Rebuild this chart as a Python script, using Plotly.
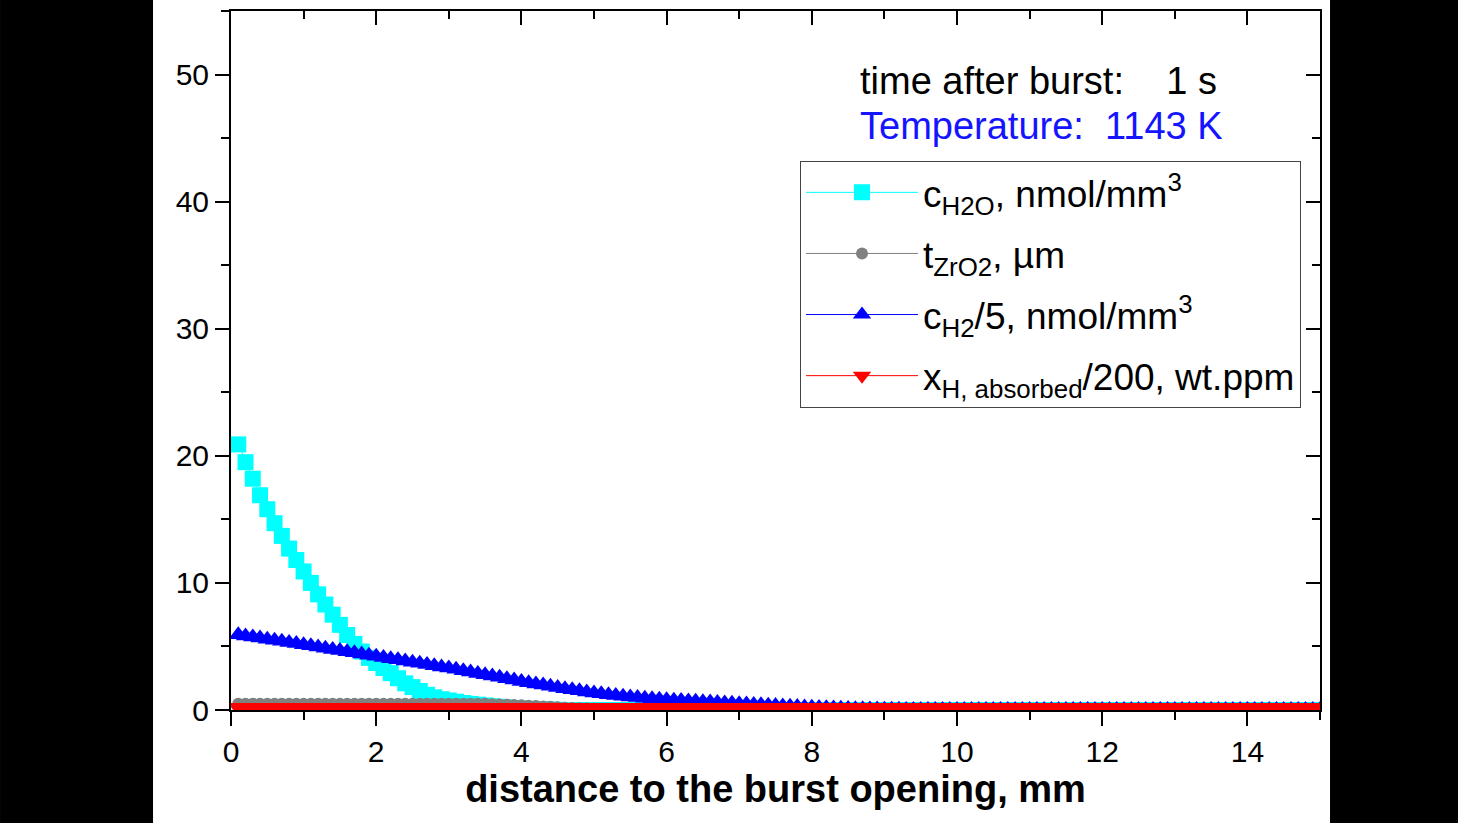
import numpy as np
import plotly.graph_objects as go

# distance grid (mm)
x_mm = np.round(np.arange(0.1, 15.0001, 0.1), 1)

# c_H2O, nmol/mm^3
c_h2o = [20.9, 19.5, 18.2, 16.9, 15.8, 14.7, 13.7, 12.7, 11.8, 10.9,
         10.0, 9.1, 8.3, 7.5, 6.7, 5.9, 5.2, 4.6, 4.1, 3.7,
         3.3, 2.9, 2.5, 2.1, 1.8, 1.5, 1.2, 1.0, 0.85, 0.75,
         0.65, 0.55, 0.48, 0.42, 0.36, 0.30, 0.25, 0.20, 0.16, 0.12,
         0.10, 0.08, 0.06, 0.04, 0.02] + [0.0] * 105

# t_ZrO2, um
t_zro2 = [0.50] * 35 + [0.46, 0.44, 0.42, 0.40, 0.37, 0.34, 0.31, 0.28, 0.25, 0.21,
                        0.18, 0.15, 0.13, 0.11, 0.09, 0.07, 0.05, 0.04, 0.02, 0.01] + [0.0] * 95

# c_H2 / 5, nmol/mm^3
c_h2 = [5.92, 5.83, 5.75, 5.66, 5.57, 5.49, 5.40, 5.31, 5.23, 5.14,
        5.05, 4.96, 4.86, 4.77, 4.68, 4.59, 4.50, 4.40, 4.31, 4.22,
        4.13, 4.04, 3.95, 3.85, 3.76, 3.67, 3.58, 3.49, 3.39, 3.30,
        3.20, 3.09, 2.99, 2.88, 2.78, 2.67, 2.57, 2.46, 2.36, 2.25,
        2.15, 2.05, 1.96, 1.86, 1.77, 1.68, 1.59, 1.51, 1.42, 1.34,
        1.27, 1.20, 1.14, 1.08, 1.03, 0.98, 0.93, 0.88, 0.84, 0.80,
        0.77, 0.74, 0.71, 0.68, 0.65, 0.62, 0.59, 0.56, 0.53, 0.50,
        0.47, 0.44, 0.41, 0.38, 0.35, 0.32, 0.29, 0.27, 0.24, 0.22,
        0.20, 0.18, 0.16, 0.14, 0.12, 0.10, 0.09, 0.08, 0.07, 0.06,
        0.05, 0.05, 0.04, 0.04, 0.04, 0.04, 0.03, 0.03, 0.03, 0.03] + [0.03] * 50

# x_H,absorbed / 200, wt.ppm
x_h = [0.20] * 150

names = ["c<sub>H2O</sub>, nmol/mm<sup>3</sup>",
         "t<sub>ZrO2</sub>, µm",
         "c<sub>H2</sub>/5, nmol/mm<sup>3</sup>",
         "x<sub>H, absorbed</sub>/200, wt.ppm"]
colors = ["#00FFFF", "#808080", "#0000FF", "#FF0000"]
symbols = ["square", "circle", "triangle-up", "triangle-down"]
sizes = [16, 12, 17, 18]
series = [c_h2o, t_zro2, c_h2, x_h]

FONT = "Liberation Sans, Arial, sans-serif"

fig = go.Figure()
for i, (name, col, sym, sz, ys) in enumerate(zip(names, colors, symbols, sizes, series)):
    fig.add_trace(go.Scatter(
        x=x_mm, y=ys, mode="lines+markers", name=name, legendgroup=f"g{i}",
        line=dict(color=col, width=1),
        marker=dict(symbol=sym, size=sz, color=col, line=dict(width=0)),
    ))

# mirror axes (inward ticks on top/right)
fig.add_trace(go.Scatter(x=[], y=[], xaxis="x2", yaxis="y2", showlegend=False))

axis_common = dict(showline=True, linecolor="black", linewidth=2, showgrid=False,
                   zeroline=False, tickcolor="black", tickwidth=2)

fig.update_layout(
    width=1458, height=823,
    margin=dict(l=231, r=138, t=11, b=113),
    paper_bgcolor="white", plot_bgcolor="white",
    font=dict(family=FONT, color="black"),
    xaxis=dict(range=[0, 15], dtick=2, tick0=0, ticks="outside", ticklen=14,
               minor=dict(dtick=1, ticks="outside", ticklen=8, tickwidth=2, tickcolor="black"),
               tickfont=dict(size=30, family=FONT),
               title=dict(text="<b>distance to the burst opening, mm</b>",
                          font=dict(size=38, family=FONT), standoff=8),
               **axis_common),
    yaxis=dict(range=[0, 55], dtick=10, tick0=0, ticks="outside", ticklen=14,
               minor=dict(dtick=5, ticks="outside", ticklen=8, tickwidth=2, tickcolor="black"),
               tickfont=dict(size=30, family=FONT),
               **axis_common),
    xaxis2=dict(range=[0, 15], overlaying="x", side="top", anchor="y", dtick=2, tick0=0,
                ticks="inside", ticklen=14, showticklabels=False,
                minor=dict(dtick=1, ticks="inside", ticklen=8, tickwidth=2, tickcolor="black"),
                **axis_common),
    yaxis2=dict(range=[0, 55], overlaying="y", side="right", anchor="x", dtick=10, tick0=0,
                ticks="inside", ticklen=14, showticklabels=False,
                minor=dict(dtick=5, ticks="inside", ticklen=8, tickwidth=2, tickcolor="black"),
                **axis_common),
    legend=dict(x=0.5225, y=0.7857, xanchor="left", yanchor="top",
                bgcolor="white", bordercolor="#444444", borderwidth=1,
                font=dict(size=37, family=FONT, color="black"),
                itemwidth=112, tracegroupgap=10),
    showlegend=True,
)

fig.add_annotation(x=0.5758, y=0.9, xref="paper", yref="paper", xanchor="left", yanchor="middle",
                   text="time after burst:\u00a0\u00a0\u00a0 1 s", showarrow=False,
                   font=dict(size=38, family=FONT, color="black"))
fig.add_annotation(x=0.5758, y=0.8357, xref="paper", yref="paper", xanchor="left", yanchor="middle",
                   text="Temperature:\u00a0\u00a01143 K", showarrow=False,
                   font=dict(size=38, family=FONT, color="#1414FF"))

# black side bars of the frame
fig.add_shape(type="rect", xref="paper", yref="paper", x0=-0.2121, x1=-0.0716, y0=-0.17, y1=1.02,
              fillcolor="black", line=dict(width=0), layer="above")
fig.add_shape(type="rect", xref="paper", yref="paper", x0=1.0092, x1=1.13, y0=-0.17, y1=1.02,
              fillcolor="black", line=dict(width=0), layer="above")

fig.write_html("out.html", config={"displayModeBar": False},
               post_script="document.body.style.margin='0';document.body.style.overflow='hidden';")
